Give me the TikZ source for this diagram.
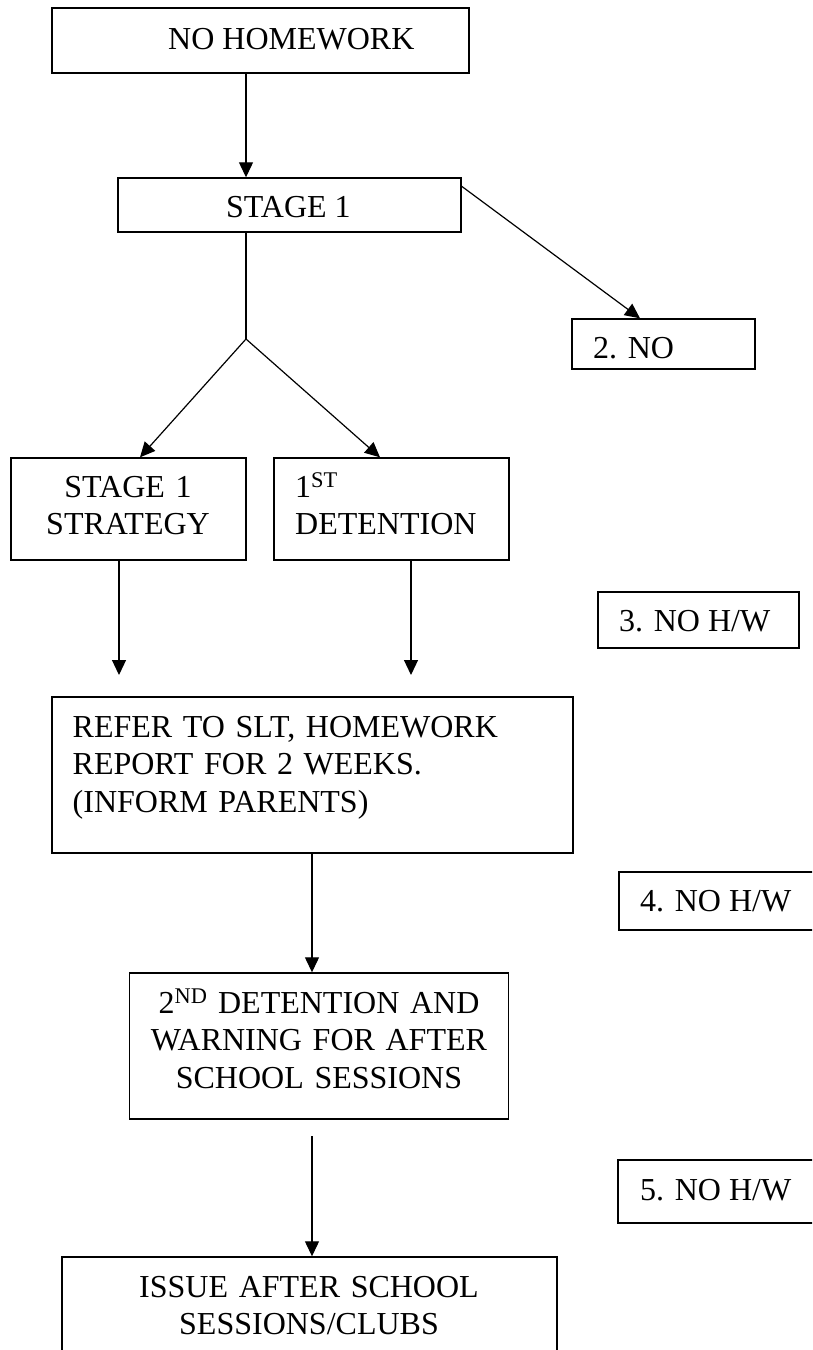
\documentclass[tikz,border=0pt]{standalone}
\usepackage{fontspec}
\setmainfont{Liberation Serif}
\usetikzlibrary{arrows.meta}
\begin{document}
\begin{tikzpicture}[x=1pt,y=-1pt,
  box/.style={draw,line width=1.4pt,rectangle,inner sep=0pt,anchor=center},
  txt/.style={font=\fontsize{32}{37.5}\selectfont,inner sep=0pt},
  arr/.style={line width=1.2pt,-{Triangle[length=15pt,width=14pt]}},
  ln/.style={line width=1.2pt}]
\useasboundingbox (0,0) rectangle (812,1350);
\clip (0,0) rectangle (812,1350);
\fill[white] (0,0) rectangle (812,1350);
% boxes
\node[box,minimum width=417pt,minimum height=65pt] (nohw) at (260.5,40.5) {};
\node[box,minimum width=343pt,minimum height=54pt] (stage1) at (289.5,205) {};
\node[box,minimum width=183pt,minimum height=50pt] (no2) at (663.5,344) {};
\node[box,minimum width=235pt,minimum height=102pt] (strat) at (128.5,509) {};
\node[box,minimum width=235pt,minimum height=102pt] (det1) at (391.5,509) {};
\node[box,minimum width=201pt,minimum height=56pt] (no3) at (698.5,620) {};
\node[box,minimum width=521pt,minimum height=156pt] (refer) at (312.5,775) {};
\node[box,minimum width=211pt,minimum height=58pt] (no4) at (724.5,901) {};
\node[box,minimum width=379pt,minimum height=146pt] (det2) at (319,1046) {};
\node[box,minimum width=212pt,minimum height=63pt] (no5) at (724,1191.5) {};
\node[box,minimum width=495pt,minimum height=123pt] (issue) at (309.5,1318.5) {};
% texts
\node[txt,anchor=base west] (tnohw) at (168,49) {NO HOMEWORK};
\node[txt,anchor=base west] (tst1) at (226,217) {STAGE 1};
\node[txt,anchor=base west] (tno2) at (593,358) {2. NO};
\node[txt,anchor=base,text width=230pt,align=center] (tstrat) at (128,497) {STAGE 1\\STRATEGY};
\node[txt,anchor=base west,text width=210pt,align=left] (tdet1) at (295,497) {1\textsuperscript{ST}\\DETENTION};
\node[txt,anchor=base west] (tno3) at (619,631) {3. NO H/W};
\node[txt,anchor=base west,text width=495pt,align=left] (trefer) at (72.5,737) {REFER TO SLT, HOMEWORK\\REPORT FOR 2 WEEKS.\\(INFORM PARENTS)};
\node[txt,anchor=base west] (tno4) at (640,911) {4. NO H/W};
\node[txt,anchor=base,text width=370pt,align=center] (tdet2) at (319,1013) {2\textsuperscript{ND} DETENTION AND\\WARNING FOR AFTER\\SCHOOL SESSIONS};
\node[txt,anchor=base west] (tno5) at (640,1200) {5. NO H/W};
\node[txt,anchor=base,text width=480pt,align=center] (tissue) at (309,1297) {ISSUE AFTER SCHOOL\\SESSIONS/CLUBS};
% helper coordinates
\coordinate (a1) at (246,0);
\coordinate (a2) at (140,0);
\coordinate (a3) at (380,0);
\coordinate (a4) at (640,0);
\coordinate (a5) at (119,0);
\coordinate (a6) at (411,0);
\coordinate (a7) at (312,0);
\coordinate (J) at (246,339);
\coordinate (e1) at (119,675);
\coordinate (e2) at (411,675);
\coordinate (s1) at (312,1136);
% connectors
\draw[arr] (nohw.south -| a1) -- (stage1.north -| a1);
\draw[arr] ([yshift=-9pt]stage1.north east) -- (no2.north -| a4);
\draw[ln] (stage1.south -| a1) -- (J);
\draw[arr] (J) -- (strat.north -| a2);
\draw[arr] (J) -- (det1.north -| a3);
\draw[arr] (strat.south -| a5) -- (e1);
\draw[arr] (det1.south -| a6) -- (e2);
\draw[arr] (refer.south -| a7) -- (det2.north -| a7);
\draw[arr] (s1) -- (issue.north -| a7);
\end{tikzpicture}
\end{document}
